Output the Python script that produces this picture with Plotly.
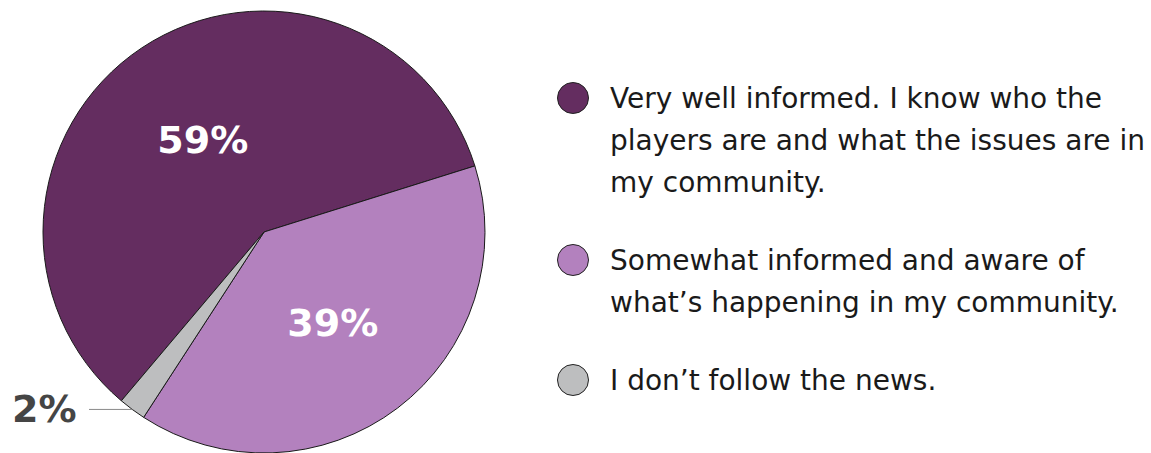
import math
import plotly.graph_objects as go

labels = [
    "Very well informed. I know who the players are and what the issues are in my community.",
    "Somewhat informed and aware of what’s happening in my community.",
    "I don’t follow the news.",
]
values = [59, 39, 2]
pct_text = ["59%", "39%", "2%"]
legend_lines = [
    ["Very well informed. I know who the", "players are and what the issues are in", "my community."],
    ["Somewhat informed and aware of", "what’s happening in my community."],
    ["I don’t follow the news."],
]
colors = ["#642D60", "#B381BE", "#BDBEBF"]

W, H = 1151, 453
FONT = "DejaVu Sans"
cx, cy, R = 264, 232, 221
rotation = -139.8  # degrees clockwise from 12 o'clock

fig = go.Figure()
fig.add_trace(go.Pie(
    labels=labels, values=values, sort=False, direction="clockwise",
    rotation=rotation,
    marker=dict(colors=colors, line=dict(color="#1a1a1a", width=1)),
    text=[pct_text[0], pct_text[1], ""], textinfo="text",
    textposition="inside", insidetextorientation="horizontal",
    insidetextfont=dict(family=FONT, size=38, color="white", weight="bold"),
    showlegend=False, hoverinfo="label+percent",
    domain=dict(x=[(cx - R) / W, (cx + R) / W], y=[(H - cy - R) / H, (H - cy + R) / H]),
))

# outside label for the small slice
tot = sum(values)
cum = sum(values[:2])
mid_cw = rotation + 360 * (cum + values[2] / 2) / tot
mid = 90 - mid_cw
px_ = cx + R * math.cos(math.radians(mid))
py_ = cy - R * math.sin(math.radians(mid))
annotations = [dict(
    x=px_ / W, y=1 - py_ / H, xref="paper", yref="paper",
    text=pct_text[2], showarrow=True, arrowhead=0, arrowwidth=1, arrowcolor="#8a8a8a",
    ax=44 - px_, ay=0, startstandoff=11, standoff=0,
    font=dict(family=FONT, size=38, color="#454545", weight="bold"),
)]

shapes = []
item_y = [98, 260, 380]
line_gap = 42
for i, lines in enumerate(legend_lines):
    y0 = item_y[i]
    shapes.append(dict(
        type="circle", xref="paper", yref="paper", xsizemode="pixel", ysizemode="pixel",
        xanchor=573 / W, yanchor=1 - y0 / H, x0=-15.5, x1=15.5, y0=-15.5, y1=15.5,
        fillcolor=colors[i], line=dict(color="#222222", width=1),
    ))
    for j, ln in enumerate(lines):
        annotations.append(dict(
            x=608 / W, y=1 - (y0 + j * line_gap) / H, xref="paper", yref="paper",
            xanchor="left", yanchor="middle", showarrow=False, text=ln,
            font=dict(family=FONT, size=28, color="#1a1a1a"),
        ))

fig.update_layout(
    width=W, height=H, margin=dict(l=0, r=0, t=0, b=0),
    paper_bgcolor="white", plot_bgcolor="white",
    annotations=annotations, shapes=shapes,
)
fig.write_html("out.html")
